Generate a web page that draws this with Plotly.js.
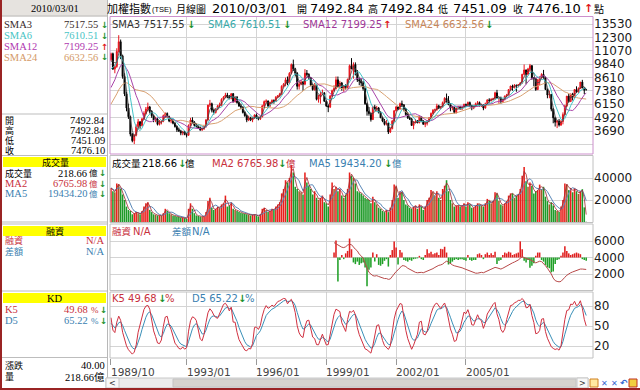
<!DOCTYPE html>
<html><head><meta charset="utf-8">
<script src="https://cdn.plot.ly/plotly-3.0.1.min.js"></script>
<style>html,body{margin:0;padding:0;background:#fff;}#chart{width:640px;height:390px;}</style>
</head><body><div id="chart"></div>
<script>
// ---------------- DATA (monthly TAIEX) ----------------
const startYear = 1989, startMonth = 10;
const open = [
10250,10800,9400,
9624,11000,11900,10600,8700,7100,5800,5000,3400,2800,3300,4100,
4530,4200,4800,5300,5700,5900,5500,5100,4700,4800,4300,4500,
4600,5100,5300,5000,4600,4700,4400,4100,3800,3700,3500,3600,
3377,3300,4200,4700,4500,4200,4100,4000,3800,3900,4100,4700,
6070,6200,5600,5400,5700,6000,6100,6600,6800,7000,6800,6700,
7124,6400,6800,6300,6000,5900,5400,5100,4700,4900,4700,4900,
5173,4900,4800,5000,6000,6400,6450,6000,6300,6500,6400,6800,
6933,7100,7800,8000,8400,8100,9000,9800,9400,9000,7800,8000,
8187,8000,9000,8900,8600,7900,7500,7900,6600,6800,7100,7200,
6418,6000,5900,6900,7400,7600,8400,7800,8100,7600,7800,7700,
8448,9700,9400,9800,9100,8400,8300,8100,7600,6200,5500,5300,
4739,5900,5700,5800,5400,4900,4600,4300,4400,3600,3900,4600,
5551,5900,5700,6200,6100,5700,5200,4900,4800,4200,4500,4600,
4452,5000,4600,4300,4400,4600,4900,5300,5600,5650,6000,5800,
5890,6300,6700,6500,6100,5800,5850,5400,5800,5900,5700,5900,
6140,6000,6300,6000,5800,6000,6200,6300,6000,6100,5800,6200,
6548,6500,6600,6650,7200,6700,6730,6400,6600,6900,7000,7500,
7823,7700,7900,7880,7950,8100,8900,9300,8900,9400,9700,8600,
8506,7500,8400,8600,8900,8600,7500,7000,7050,5700,4900,4500,
4591,4250,4560,5200,6000,6900,6400,7100,6800,7500,7300,7600,
8188,7640,7492.84];
const high = [
10900,10900,9800,
11300,12500,12100,10700,9000,7300,6200,5100,3500,3400,4300,4800,
4600,4900,5500,5900,6300,6000,5600,5200,5000,4900,4700,4700,
5200,5400,5400,5100,4900,4800,4500,4200,4000,3800,3700,3700,
3500,4300,4900,4950,4600,4400,4200,4100,4000,4200,4800,6100,
6550,6300,5700,5800,6100,6300,6700,6900,7200,7200,7000,7150,
7180,6900,6900,6400,6200,5950,5500,5200,5100,5000,5000,5200,
5300,5000,5100,6100,6500,6600,6500,6400,6600,6600,6900,7000,
7200,7900,8100,8600,8700,9100,9900,10256,9500,9100,8200,8400,
8300,9378,9300,9000,8650,8000,8100,7950,7000,7300,7500,7250,
6500,6100,7000,7500,7900,8700,8700,8300,8200,7900,8000,8500,
9800,10393,10000,10000,9300,8600,8500,8300,7700,6300,5900,5400,
6000,6100,6000,5900,5500,5000,4800,4700,4500,4000,4700,5600,
6000,5950,6300,6484,6150,5800,5400,5000,4900,4600,4800,4700,
5100,5050,4700,4600,4700,4950,5400,5700,5750,6200,6100,6000,
6400,6800,7135,6900,6200,6000,5900,5850,6000,6000,5950,6200,
6200,6400,6400,6100,6100,6300,6450,6400,6200,6150,6300,6600,
6700,6700,6750,7300,7474,6800,6850,6650,6950,7100,7550,7850,
7950,8000,7950,8000,8200,8950,9807,9350,9500,9859,9750,8650,
8550,8450,8700,9000,9309,8700,7600,7400,7100,5800,5000,4700,
4800,4700,5400,6100,6900,7100,7100,7200,7550,7800,7700,8200,
8395,7700,7492.84];
const low = [
10100,9300,9000,
9500,10900,10300,8500,6900,5500,4800,3200,2650,2485,3200,3900,
3900,4100,4700,5200,5500,5300,4900,4500,4500,4200,4200,4300,
4500,4900,4900,4500,4400,4300,4000,3600,3600,3300,3300,3300,
3100,3250,4100,4400,4100,4000,3900,3700,3700,3800,4000,4650,
5900,5400,5200,5300,5600,5800,6000,6500,6700,6700,6600,6600,
6300,6300,6200,5900,5700,5300,5000,4500,4600,4600,4500,4800,
4800,4670,4700,4950,5900,6200,5800,5900,6200,6200,6350,6700,
6800,7000,7700,7800,7900,8000,8900,9200,8700,7500,7500,7900,
7400,7900,8700,8400,7800,7400,7400,6500,6300,6200,7000,6400,
5900,5422,5800,6800,7300,7500,7700,7600,7400,7300,7500,7600,
8400,9400,8500,8800,8200,7900,7800,7400,6100,5100,5100,4555,
4700,5600,5500,5300,4900,4500,4200,4200,3411,3500,3850,4550,
5500,5600,5700,5900,5500,5100,4800,4700,4200,3850,4400,4400,
4400,4500,4300,4044,4200,4500,4850,5200,5400,5550,5700,5700,
5850,6200,6300,6100,5500,5600,5300,5300,5700,5700,5650,5800,
5900,5950,5900,5600,5700,5950,6100,5950,5900,5600,5750,6150,
6300,6400,6500,6550,6700,6200,6200,6300,6500,6800,6950,7400,
7400,7600,7300,7700,7850,8050,8850,7987,8800,9100,8400,7800,
7384,7450,7900,8500,8500,7500,6700,6700,5500,4400,4100,3955,
4100,4150,4300,5150,5900,6300,6350,6500,6750,7200,7200,7550,
7640,7080,7451.09];
const close = [
10800,9400,9624,
11000,11900,10600,8700,7100,5800,5000,3400,2800,3300,4100,4530,
4200,4800,5300,5700,5900,5500,5100,4700,4800,4300,4500,4600,
5100,5300,5000,4600,4700,4400,4100,3800,3700,3500,3600,3377,
3300,4200,4700,4500,4200,4100,4000,3800,3900,4100,4700,6070,
6200,5600,5400,5700,6000,6100,6600,6800,7000,6800,6700,7124,
6400,6800,6300,6000,5900,5400,5100,4700,4900,4700,4900,5173,
4900,4800,5000,6000,6400,6450,6000,6300,6500,6400,6800,6933,
7100,7800,8000,8400,8100,9000,9800,9400,9000,7800,8000,8187,
8000,9000,8900,8600,7900,7500,7900,6600,6800,7100,7200,6418,
6000,5900,6900,7400,7600,8400,7800,8100,7600,7800,7700,8448,
9700,9400,9800,9100,8400,8300,8100,7600,6200,5500,5300,4739,
5900,5700,5800,5400,4900,4600,4300,4400,3600,3900,4600,5551,
5900,5700,6200,6100,5700,5200,4900,4800,4200,4500,4600,4452,
5000,4600,4300,4400,4600,4900,5300,5600,5650,6000,5800,5890,
6300,6700,6500,6100,5800,5850,5400,5800,5900,5700,5900,6140,
6000,6300,6000,5800,6000,6200,6300,6000,6100,5800,6200,6548,
6500,6600,6650,7200,6700,6730,6400,6600,6900,7000,7500,7823,
7700,7900,7880,7950,8100,8900,9300,8900,9400,9700,8600,8506,
7500,8400,8600,8900,8600,7500,7000,7050,5700,4900,4500,4591,
4250,4560,5200,6000,6900,6400,7100,6800,7500,7300,7600,8188,
7640,7436,7476.10];
// closes of the 23 months before the first bar (only used for the moving averages)
const preCloses = [2500,2340,2600,3000,3400,3800,4400,5000,6500,7800,8400,6000,5400,5119,4900,6000,6800,7600,8300,9000,8800,9300,10200];
// monthly turnover (億)
const volume = [
31000,28000,27000,
35000,34000,30000,25000,20000,14000,11000,10000,7000,8000,9000,8000,
7000,10000,14000,17000,18000,11000,9000,7000,6500,6000,6000,5500,
8000,12000,10000,8000,7000,6000,5500,5000,4500,4000,4000,3500,
2800,12000,17000,12000,8000,6000,5500,5000,4500,5000,9000,19000,
22000,13000,11000,12000,14000,13000,16000,17000,24000,14000,15000,18000,
12000,11000,10000,9000,8500,8000,7500,7000,6500,6000,6500,7000,
6000,5000,7000,12000,13000,11000,9000,10000,12000,11000,14000,16000,
18000,26000,30000,38000,36000,40000,52000,45000,32000,30000,28000,27000,
25000,45000,36000,33000,30000,25000,28000,22000,20000,22000,24000,18000,
17000,14000,25000,36000,30000,32000,28000,30000,24000,22000,25000,30000,
45000,42000,40000,35000,28000,27000,26000,24000,22000,21000,20000,17000,
23000,18000,16000,13000,12000,10000,9000,11000,9000,13000,20000,34000,
32000,22000,28000,27000,20000,16000,15000,13000,12000,14000,15000,12000,
16000,14000,11000,14000,20000,22000,29000,27000,24000,28000,22000,20000,
30000,33000,38000,28000,20000,17000,14000,15000,15000,14000,15000,17000,
14000,18000,16000,13000,13000,15000,17000,16000,15000,14000,17000,21000,
19000,17000,19000,27000,26000,19000,16000,15000,17000,19000,24000,26000,
26000,22000,24000,25000,30000,42000,50000,37000,32000,36000,33000,26000,
28000,29000,34000,30000,32000,23000,19000,16000,18000,15000,11000,10000,
9000,14000,20000,35000,34000,29000,31000,27000,31000,28000,25500,28300,
29840,13313,218.66];
// margin (融資) data from 1999/05
const marginStart = '1999/05';
const marginBalance = [
5800,5650,5550,5400,5250,5200,5300,5500,
5600,5550,5200,5000,4800,4400,4200,3900,3300,2700,2200,2000,
1800,1750,1800,1700,1600,1500,1450,1450,1350,1400,1700,2100,
2300,2500,2800,3000,3000,2900,2700,2550,2400,2250,2200,2150,
2200,2200,2150,2250,2300,2400,2550,2650,2800,2950,3050,3100,
3200,3400,3550,3450,3250,3100,3000,2950,2850,2800,2750,2650,
2550,2500,2400,2300,2200,2100,2100,2150,2200,2150,2250,2350,
2450,2550,2650,2800,2750,2650,2600,2700,2850,2950,3100,3250,
3350,3450,3550,3700,3900,4100,4000,3850,3800,3750,3600,3400,
3350,3450,3550,3500,3300,3000,2700,2400,2000,1500,1200,1100,
1050,1100,1300,1600,1850,2050,2150,2250,2350,2450,2550,2600,
2600,2550,2550];
const marginChange = [
600,2050,-2900,-300,300,-200,500,800,
2300,1000,-600,-800,-500,-900,-700,-600,-1200,-3500,-1500,-1200,
600,-500,400,-900,-1000,-800,-400,-200,-1100,300,900,1950,
1200,-850,900,600,-300,-400,-500,-300,-400,-200,-150,-100,
200,-200,-300,300,1000,500,700,400,500,600,300,1050,
1000,1300,600,-850,-700,-500,-300,-200,-300,-200,-200,-300,
-400,300,-300,-400,-300,-300,400,500,300,-200,400,600,
300,500,300,700,-800,-400,-300,300,600,500,700,600,
300,400,500,600,1950,1000,-400,-600,-300,-1250,-1000,-700,
200,600,600,-300,-500,-900,-1200,-1300,-1800,-1700,-800,-300,
-200,200,600,1350,800,500,300,400,500,600,500,400,
-200,-300,-400];
const marginBase = 4000;
const xTickLabels = ['1989/10','1993/01','1996/01','1999/01','2002/01','2005/01'];
const priceTickVals = [2460,3690,4920,6150,7380,8610,9840,11070,12300,13530];
const priceTickText = ['','3690','4920','6150','7380','8610','9840','11070','12300','13530'];
const volTickVals = [20000,40000];
const marginTickVals = [2000,4000,6000];
const kdTickVals = [20,50,80];

// ---------------- DERIVED ----------------
const months = [];
for (let i = 0; i < close.length; i++) {
  const t = (startMonth - 1) + i;
  months.push((startYear + Math.floor(t / 12)) + '/' + String(t % 12 + 1).padStart(2, '0'));
}
function sma(src, n, pre) {
  pre = pre || [];
  const ext = pre.concat(src), off = pre.length;
  return src.map((_, i) => {
    const j = i + off, s = Math.max(0, j - n + 1);
    let sum = 0; for (let k = s; k <= j; k++) sum += ext[k];
    return sum / (j - s + 1);
  });
}
const sma3 = sma(close, 3, preCloses), sma6 = sma(close, 6, preCloses),
      sma12 = sma(close, 12, preCloses), sma24 = sma(close, 24, preCloses);
const volMA2 = sma(volume, 2), volMA5 = sma(volume, 5);
let K = 50, D = 50; const kArr = [], dArr = [];
for (let i = 0; i < close.length; i++) {
  const s = Math.max(0, i - 4); let hi = -Infinity, lo = Infinity;
  for (let k = s; k <= i; k++) { hi = Math.max(hi, high[k]); lo = Math.min(lo, low[k]); }
  const rsv = hi > lo ? (close[i] - lo) / (hi - lo) * 100 : 50;
  K = K * 2 / 3 + rsv / 3; D = D * 2 / 3 + K / 3; kArr.push(K); dArr.push(D);
}
const mIdx = months.indexOf(marginStart);
const mMonths = months.slice(mIdx, mIdx + marginBalance.length);

// ---------------- STYLE ----------------
const W = 640, H = 390;
const SANS = 'DejaVu Sans, Noto Sans CJK TC, sans-serif';
const SERIF = 'Liberation Serif, Noto Sans CJK TC, serif';
const CJK = 'Noto Sans CJK TC, sans-serif';
const RED = '#c8303c', BLUE = '#3a80b0', ARUP = '#e01818', ARDN = '#18902a';
const CUP = '#e8141c', BAR_UP = '#e8201c', BAR_DN = '#1e9a28', BAR_BR = '#a05a28';
const volColors = volume.map((v, i) => close[i] < open[i] ? BAR_DN : (i > 0 && v < volume[i - 1] ? BAR_BR : BAR_UP));
const mColors = marginChange.map(v => v >= 0 ? '#e02020' : '#20a028');

function T(x, y, text, o) {
  o = o || {};
  return {xref: 'paper', yref: 'paper', x: x / W, y: 1 - y / H, text: text, showarrow: false,
    xanchor: o.a || 'left', yanchor: 'middle', borderpad: 0,
    font: {family: o.f || SANS, size: o.s || 10, color: o.c || '#000', weight: o.w || 'normal'}};
}
function R(x0, y0, x1, y1, fill, line, lw) {
  return {type: 'rect', xref: 'paper', yref: 'paper', x0: x0 / W, x1: x1 / W, y0: 1 - y1 / H, y1: 1 - y0 / H,
    fillcolor: fill || 'rgba(0,0,0,0)', line: {color: line || 'rgba(0,0,0,0)', width: line ? (lw || 1) : 0}};
}
function L(x0, y0, x1, y1, c, w) {
  return {type: 'line', xref: 'paper', yref: 'paper', x0: x0 / W, x1: x1 / W, y0: 1 - y0 / H, y1: 1 - y1 / H,
    line: {color: c, width: w || 1}};
}
const dom = (t, b) => [1 - b / H, 1 - t / H];
const XDOM = [110 / W, 593 / W];
function xax(extra) {
  return Object.assign({type: 'category', categoryorder: 'array', categoryarray: months, range: [-0.5, 248.5],
    domain: XDOM, showgrid: true, gridcolor: '#d4d4d4', gridwidth: 1, tickmode: 'array',
    tickvals: xTickLabels.slice(1), showticklabels: false, ticks: '', zeroline: false, showline: false,
    fixedrange: true}, extra || {});
}
function yax(d, range, tv, tt, anchor) {
  return {domain: d, range: range, side: 'right', anchor: anchor, tickmode: 'array', tickvals: tv,
    ticktext: tt || tv.map(String), showgrid: true, gridcolor: '#d4d4d4', zeroline: false, showline: false,
    ticks: '', tickfont: {family: SANS, size: 12, color: '#1a1a1a'}, fixedrange: true};
}

// ---------------- TRACES ----------------
const ln = (y, c, xa, ya, w, x) => ({type: 'scatter', mode: 'lines', x: x || months, y: y, xaxis: xa, yaxis: ya,
  line: {color: c, width: w || 1}, hoverinfo: 'skip'});
const traces = [
  {type: 'candlestick', x: months, open: open, high: high, low: low, close: close, xaxis: 'x', yaxis: 'y',
   increasing: {line: {color: CUP, width: 1}, fillcolor: CUP},
   decreasing: {line: {color: '#000', width: 1}, fillcolor: '#000'}, whiskerwidth: 0, hoverinfo: 'skip'},
  ln(sma24, '#d8a070', 'x', 'y'),
  ln(sma12, '#a844a8', 'x', 'y'),
  ln(sma6, '#44c4c8', 'x', 'y'),
  ln(sma3, '#404040', 'x', 'y', 0.8),
  {type: 'bar', x: months, y: volume, xaxis: 'x2', yaxis: 'y2', marker: {color: volColors, line: {width: 0}}, hoverinfo: 'skip'},
  ln(volMA5, '#5a88b8', 'x2', 'y2'),
  ln(volMA2, '#a02830', 'x2', 'y2', 0.8),
  {type: 'bar', x: mMonths, y: marginChange, base: marginBase, xaxis: 'x3', yaxis: 'y3',
   marker: {color: mColors, line: {width: 0}}, hoverinfo: 'skip'},
  ln(marginBalance, '#b84848', 'x3', 'y3', 1, mMonths),
  ln(dArr, '#3a90b8', 'x4', 'y4'),
  ln(kArr, '#d03040', 'x4', 'y4')
];

// ---------------- TEXT ----------------
const ann = [];
// title row
ann.push(T(106, 8, '加權指數', {f: CJK, s: 11}));
ann.push(T(151, 9, '(TSE)', {f: 'Liberation Sans', s: 7.5}));
ann.push(T(175, 8, '月線圖', {f: CJK, s: 10}));
ann.push(T(211, 8, '2010/03/01', {s: 13}));
ann.push(T(296, 8, '開', {f: CJK, s: 10}));
ann.push(T(309, 8, '7492.84', {s: 13}));
ann.push(T(367, 8, '高', {f: CJK, s: 10}));
ann.push(T(379, 8, '7492.84', {s: 13}));
ann.push(T(437, 8, '低', {f: CJK, s: 10}));
ann.push(T(452, 8, '7451.09', {s: 13}));
ann.push(T(512, 8, '收', {f: CJK, s: 10}));
ann.push(T(526, 8, '7476.10', {s: 13}));
ann.push(T(583, 8, '↑', {s: 11, c: ARUP, w: 'bold'}));
ann.push(T(593, 8, '點', {f: CJK, s: 10}));
// price legend
ann.push(T(111, 24, 'SMA3 7517.55', {c: '#333'}));  ann.push(T(186, 24, '↓', {c: ARDN, w: 'bold'}));
ann.push(T(207, 24, 'SMA6 7610.51', {c: '#38aaaa'})); ann.push(T(282, 24, '↓', {c: ARDN, w: 'bold'}));
ann.push(T(302, 24, 'SMA12 7199.25', {c: '#a03898'})); ann.push(T(382, 24, '↑', {c: ARUP, w: 'bold'}));
ann.push(T(404, 24, 'SMA24 6632.56', {c: '#c8875a'})); ann.push(T(484, 24, '↓', {c: ARDN, w: 'bold'}));
// volume legend
ann.push(T(111, 163, '成交量', {f: CJK, s: 9.5}));
ann.push(T(141, 163, '218.66')); ann.push(T(177, 163, '↓', {c: ARDN, w: 'bold'})); ann.push(T(184, 163, '億', {f: CJK, s: 9.5}));
ann.push(T(211, 163, 'MA2 6765.98', {c: RED})); ann.push(T(277, 163, '↓', {c: ARDN, w: 'bold'})); ann.push(T(285, 163, '億', {f: CJK, s: 9.5, c: RED}));
ann.push(T(308, 163, 'MA5 19434.20', {c: BLUE})); ann.push(T(383, 163, '↓', {c: ARDN, w: 'bold'})); ann.push(T(391, 163, '億', {f: CJK, s: 9.5, c: BLUE}));
// margin legend
ann.push(T(111, 231, '融資', {f: CJK, s: 9.5, c: RED})); ann.push(T(132, 231, 'N/A', {c: RED}));
ann.push(T(171, 231, '差額', {f: CJK, s: 9.5, c: BLUE})); ann.push(T(191, 231, 'N/A', {c: BLUE}));
// KD legend
ann.push(T(111, 298.5, 'K5 49.68', {c: RED})); ann.push(T(157, 298.5, '↓', {c: ARDN, w: 'bold'})); ann.push(T(164, 298.5, '%', {c: RED}));
ann.push(T(191, 298.5, 'D5 65.22', {c: BLUE})); ann.push(T(237, 298.5, '↓', {c: ARDN, w: 'bold'})); ann.push(T(244, 298.5, '%', {c: BLUE}));
// x labels
xTickLabels.forEach(lb => ann.push({xref: 'x4', yref: 'paper', x: months.indexOf(lb), y: 1 - 372 / H, text: lb,
  showarrow: false, xanchor: 'left', yanchor: 'middle', xshift: -2, font: {family: SANS, size: 10.5, color: '#444'}}));
// left panel
const LS = 10.5, LC = 9;
ann.push(T(55, 8.5, '2010/03/01', {f: SERIF, s: LS, a: 'center'}));
[['SMA3', '7517.55', '#3a2a2a', '↓'], ['SMA6', '7610.51', '#48c4c4', '↓'], ['SMA12', '7199.25', '#b038b0', '↑'], ['SMA24', '6632.56', '#d49a68', '↓']]
  .forEach((r, k) => {
    const y = [25, 35.5, 46.5, 57][k];
    ann.push(T(3, y, r[0], {f: SERIF, s: LS, c: r[2]}));
    ann.push(T(99, y, r[1], {f: SERIF, s: LS, c: r[2], a: 'right'}));
    ann.push(T(100, y, r[3], {s: 8.5, w: 'bold', c: r[3] === '↑' ? ARUP : ARDN}));
  });
[['開', '7492.84'], ['高', '7492.84'], ['低', '7451.09'], ['收', '7476.10']].forEach((r, k) => {
  const y = [120.5, 130.5, 140.5, 150.5][k];
  ann.push(T(4, y, r[0], {f: SERIF, s: LC}));
  ann.push(T(106, y, r[1], {f: SERIF, s: LS, a: 'right'}));
});
ann.push(T(55, 162, '成交量', {f: SERIF, s: LC, a: 'center'}));
[['成交量', '218.66', '#000', 173], ['MA2', '6765.98', RED, 183.5], ['MA5', '19434.20', BLUE, 193.5]].forEach(r => {
  ann.push(T(4, r[3], r[0], {f: SERIF, s: r[0] === '成交量' ? LC : LS, c: r[2]}));
  ann.push(T(88, r[3], r[1], {f: SERIF, s: LS, c: r[2], a: 'right'}));
  ann.push(T(88, r[3], '億', {f: SERIF, s: 8.5, c: r[2]}));
  ann.push(T(98, r[3], '↓', {s: 8.5, w: 'bold', c: ARDN}));
});
ann.push(T(55, 231, '融資', {f: SERIF, s: LC, a: 'center'}));
ann.push(T(4, 240.5, '融資', {f: SERIF, s: LC, c: RED})); ann.push(T(106, 240.5, 'N/A', {f: SERIF, s: LS, c: RED, a: 'right'}));
ann.push(T(4, 251, '差額', {f: SERIF, s: LC, c: BLUE})); ann.push(T(106, 251, 'N/A', {f: SERIF, s: LS, c: BLUE, a: 'right'}));
ann.push(T(55, 298, 'KD', {f: SERIF, s: LS, a: 'center'}));
[['K5', '49.68', RED, 309.5], ['D5', '65.22', BLUE, 320.5]].forEach(r => {
  ann.push(T(4, r[3], r[0], {f: SERIF, s: LS, c: r[2]}));
  ann.push(T(89, r[3], r[1], {f: SERIF, s: LS, c: r[2], a: 'right'}));
  ann.push(T(89.5, r[3], '%', {f: SERIF, s: 9, c: r[2]}));
  ann.push(T(98.5, r[3], '↓', {s: 8.5, w: 'bold', c: ARDN}));
});
ann.push(T(4, 365.5, '漲跌', {f: SERIF, s: LC})); ann.push(T(106, 365.5, '40.00', {f: SERIF, s: LS, a: 'right'}));
ann.push(T(4, 377, '量', {f: SERIF, s: LC})); ann.push(T(106, 377, '218.66億', {f: SERIF, s: LS, a: 'right'}));
// scrollbar arrows / icons
ann.push(T(112.5, 383, '<', {s: 8, a: 'center', c: '#333'}));
ann.push(T(582.5, 383, '>', {s: 8, a: 'center', c: '#333'}));
ann.push(T(604, 383, '✕', {s: 8, a: 'center', c: '#3a6ad0'}));
ann.push(T(614, 383, '✕', {s: 8, a: 'center', c: '#3a6ad0'}));
ann.push(T(624, 383, '↶', {s: 9, a: 'center', c: '#3a6ad0', w: 'bold'}));

// ---------------- SHAPES ----------------
const GL = '#bdbdbd';
const shapes = [
  R(2, 0, 107, 15.5, '#e6e3df'),
  L(2, 16, 107, 16, '#b0aca8'),
  L(2, 114, 107, 114, GL),
  L(2, 155.5, 107, 155.5, GL),
  R(3, 157, 106, 167, '#ffff00'),
  L(2, 222, 107, 222, GL), L(2, 224, 107, 224, GL),
  R(3, 226, 106, 236, '#ffff00'),
  L(2, 291, 107, 291, GL),
  R(3, 293, 106, 303, '#ffff00'),
  L(2, 357.5, 107, 357.5, GL),
  L(107.5, 0, 107.5, 388, '#b8b8b8'),
  R(110, 16.5, 593, 154, null, '#cc90cc'),
  R(110, 155.5, 593, 222.5, null, '#c0c0c0'),
  R(110, 224, 593, 290.5, null, '#c0c0c0'),
  R(110, 292, 593, 358, null, '#c0c0c0'),
  // scrollbar
  R(106, 378, 588, 388, '#ececec', '#c8c8c8'),
  R(106, 378, 119, 388, '#f8f8f8', '#c8c8c8'),
  R(173, 379, 576, 387, '#d6d3ce', '#c4c4c4'),
  R(577, 378, 588, 388, '#f8f8f8', '#c8c8c8'),
  R(590, 379, 598, 387, '#ffe9a0', '#d08020'),
  R(629, 379, 637, 387, '#f0d040', '#c03020'),
  // outer red border
  R(0, 388, 640, 390, '#9a2424'),
  R(0, 0, 2, 390, '#9a2424')
];

const layout = {
  width: W, height: H, margin: {l: 0, r: 0, t: 0, b: 0}, paper_bgcolor: '#fff', plot_bgcolor: '#fff',
  showlegend: false, bargap: 0.2, font: {family: SANS, size: 10, color: '#000'},
  xaxis: xax({anchor: 'y', rangeslider: {visible: false}}),
  xaxis2: xax({anchor: 'y2'}),
  xaxis3: xax({anchor: 'y3'}),
  xaxis4: xax({anchor: 'y4', tickvals: xTickLabels, ticks: 'outside', ticklen: 6, tickcolor: '#999'}),
  yaxis: yax(dom(16.5, 154), [1574.9, 14220], priceTickVals, priceTickText, 'x'),
  yaxis2: yax(dom(156, 222), [0, 60000], volTickVals, null, 'x2'),
  yaxis3: yax(dom(224, 290), [60.6, 8060.6], marginTickVals, null, 'x3'),
  yaxis4: yax(dom(292, 358), [2, 101], kdTickVals, null, 'x4'),
  annotations: ann, shapes: shapes
};
Plotly.newPlot('chart', traces, layout, {staticPlot: true, displayModeBar: false});
</script></body></html>
